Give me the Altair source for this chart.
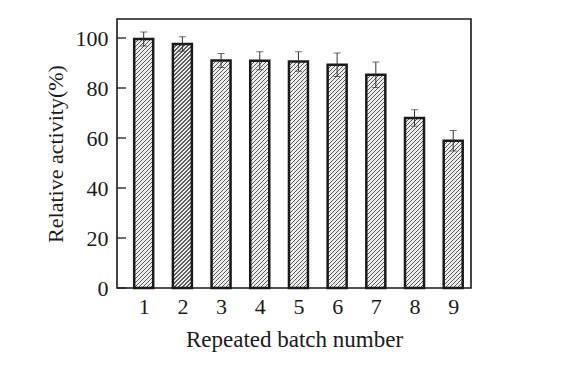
import altair as alt
import pandas as pd

batch = [1, 2, 3, 4, 5, 6, 7, 8, 9]
activity = [99.6, 97.6, 91.0, 90.9, 90.6, 89.3, 85.3, 68.0, 58.9]
err = [2.8, 2.9, 2.8, 3.6, 3.9, 4.7, 5.1, 3.3, 4.1]
yticks = [0, 20, 40, 60, 80, 100]

df = pd.DataFrame({"batch": batch, "activity": activity, "err": err})
df["lo"] = df["activity"] - df["err"]
df["hi"] = df["activity"] + df["err"]
tick_df = pd.DataFrame({"t": yticks})

FONT = "Liberation Serif"
INK = "#1a1a1a"
PLOT_W, PLOT_H = 354, 269
Y_MAX = 107.6
BAR_W = 19
HATCH_PERIOD = 4.0      # px along x+y
HATCH_DARK = 0.34       # fraction of period that is dark
HATCH_C1, HATCH_C2 = "#5e5e5e", "#ececec"

xscale = alt.Scale(domain=[0.31, 9.46], nice=False, zero=False, padding=0)
yscale = alt.Scale(domain=[0, Y_MAX], nice=False)

xaxis = alt.Axis(values=batch, format="d", ticks=False, domain=False, grid=False,
                 labelFontSize=22, labelFont=FONT, labelColor=INK, labelPadding=8,
                 title="Repeated batch number", titleFont=FONT, titleFontSize=23,
                 titleFontWeight="normal", titleColor=INK, titlePadding=11)
yaxis = alt.Axis(values=yticks, ticks=False, domain=False, grid=False,
                 labelFontSize=22, labelFont=FONT, labelColor=INK, labelPadding=9,
                 title="Relative activity(%)", titleFont=FONT, titleFontSize=22,
                 titleFontWeight="normal", titleColor=INK, titlePadding=8)


def hatch(h_px, w_px=BAR_W):
    q = w_px * w_px + h_px * h_px
    n = int((w_px + h_px) / HATCH_PERIOD) + 1
    span = n * HATCH_PERIOD
    stops = []
    for j in range(n):
        a = j / n
        b = (j + HATCH_DARK) / n
        c = (j + 1) / n
        stops += [alt.GradientStop(offset=a, color=HATCH_C1),
                  alt.GradientStop(offset=b, color=HATCH_C1),
                  alt.GradientStop(offset=b, color=HATCH_C2),
                  alt.GradientStop(offset=c, color=HATCH_C2)]
    return alt.LinearGradient(gradient="linear", stops=stops,
                              x1=0, y1=0, x2=w_px * span / q, y2=h_px * span / q)


layers = []
for i, (b, v) in enumerate(zip(batch, activity)):
    h_px = v * PLOT_H / Y_MAX
    if i == 0:
        enc = dict(x=alt.X("batch:Q", scale=xscale, axis=xaxis),
                   y=alt.Y("activity:Q", scale=yscale, axis=yaxis))
    else:
        enc = dict(x=alt.X("batch:Q", scale=xscale),
                   y=alt.Y("activity:Q", scale=yscale))
    layers.append(
        alt.Chart(df).transform_filter(alt.datum.batch == b)
        .mark_bar(size=BAR_W, fill=hatch(h_px), stroke=INK, strokeWidth=2.5)
        .encode(**enc)
    )

rules = alt.Chart(df).mark_rule(color="#333", strokeWidth=1).encode(
    x=alt.X("batch:Q", scale=xscale),
    y=alt.Y("lo:Q", scale=yscale),
    y2="hi:Q",
)
caps_hi = alt.Chart(df).mark_tick(color="#333", thickness=1, size=7, orient="horizontal").encode(
    x=alt.X("batch:Q", scale=xscale),
    y=alt.Y("hi:Q", scale=yscale),
)
caps_lo = alt.Chart(df).mark_tick(color="#333", thickness=1, size=7, orient="horizontal").encode(
    x=alt.X("batch:Q", scale=xscale),
    y=alt.Y("lo:Q", scale=yscale),
)
ticks = alt.Chart(tick_df).mark_rule(color=INK, strokeWidth=1.3).encode(
    x=alt.value(0), x2=alt.value(9),
    y=alt.Y("t:Q", scale=yscale),
)

chart = alt.layer(*layers, rules, caps_hi, caps_lo, ticks).properties(
    width=PLOT_W, height=PLOT_H,
    background="white",
    autosize=alt.AutoSizeParams(type="none"),
    padding={"left": 117, "top": 19, "right": 104, "bottom": 81},
).configure_view(stroke=INK, strokeWidth=1.6)

chart.save("out.html", embed_options={"renderer": "svg", "actions": False})
